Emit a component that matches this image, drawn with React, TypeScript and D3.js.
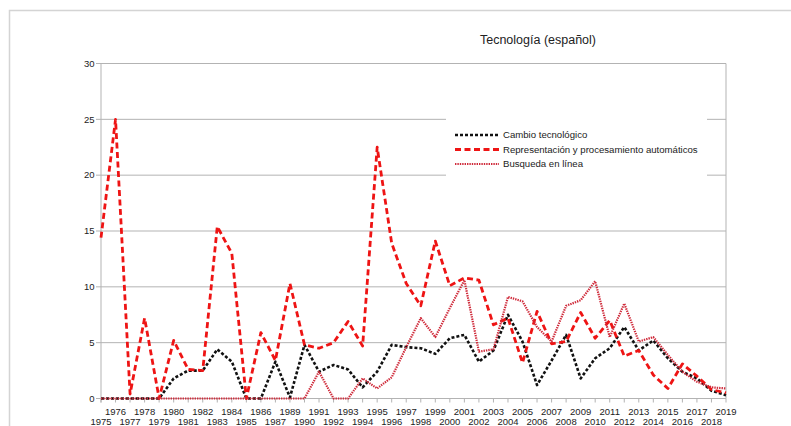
import React from "react";
import * as d3 from "d3";

const years: string[] = [
  "1975","1976","1977","1978","1979","1980","1981","1982","1983","1984","1985","1986","1987",
  "1989","1990","1991","1992","1993","1994","1995","1996","1997","1998","1999","2000","2001",
  "2002","2003","2004","2005","2006","2007","2008","2009","2010","2011","2012","2013","2014",
  "2015","2016","2017","2018","2019",
];

const cambio: number[] = [
  0, 0, 0, 0, 0, 1.8, 2.5, 2.5, 4.4, 3.3, 0, 0, 3.3,
  0.1, 4.8, 2.4, 3.0, 2.6, 1.0, 2.4, 4.8, 4.6, 4.5, 4.0, 5.4, 5.7,
  3.3, 4.3, 7.5, 5.1, 1.2, 3.4, 5.7, 1.8, 3.6, 4.5, 6.4, 4.3, 5.2,
  3.6, 2.4, 1.8, 0.7, 0.3,
];

const representacion: number[] = [
  14.4, 25.0, 0.4, 7.2, 0, 5.2, 2.6, 2.5, 15.4, 13.0, 0, 5.9, 3.4,
  10.3, 4.8, 4.5, 5.0, 6.9, 4.7, 22.5, 13.9, 10.3, 8.3, 14.1, 10.1, 10.8,
  10.6, 6.6, 7.2, 3.2, 7.8, 4.9, 5.1, 7.7, 5.4, 7.0, 3.8, 4.3, 2.1,
  0.9, 3.1, 2.0, 0.8, 0.5,
];

const busqueda: number[] = [
  0, 0, 0, 0, 0, 0, 0, 0, 0, 0, 0, 0, 0,
  0, 0, 2.4, 0, 0, 1.8, 0.9, 1.9, 4.6, 7.2, 5.5, 8.1, 10.6,
  4.2, 4.4, 9.1, 8.7, 6.4, 5.1, 8.3, 8.8, 10.5, 5.5, 8.5, 5.1, 5.5,
  3.9, 2.4, 1.5, 1.0, 0.9,
];

const yTicks: number[] = [0, 5, 10, 15, 20, 25, 30];

const seriesNames: string[] = [
  "Cambio tecnológico",
  "Representación y procesamiento automáticos",
  "Busqueda en línea",
];

const title = "Tecnología (español)";

const FONT = "'Liberation Sans', Arial, sans-serif";

export default function App() {
  const W = 791;
  const H = 426;
  const x = d3.scalePoint<string>().domain(years).range([101, 726]);
  const y = d3.scaleLinear().domain([0, 30]).range([398.5, 63.5]);

  const styles = [
    { color: "#111111", dash: "3,2", width: 2.6 },
    { color: "#ee1414", dash: "6,3.5", width: 2.8 },
    { color: "#cf2a3a", dash: "1.4,1", width: 2.2 },
  ];
  const data = [cambio, representacion, busqueda];

  const line = d3
    .line<number>()
    .x((_, i) => x(years[i]) as number)
    .y((d) => y(d));

  const legendX = 446;
  const legendY = 121;

  return (
    <svg
      width={W}
      height={H}
      style={{ position: "absolute", left: 0, top: 0, background: "#fff" }}
      fontFamily={FONT}
    >
      <rect x={9.5} y={10.5} width={900} height={600} fill="#fff" stroke="#d4d4d4" strokeWidth={1.5} />
      <text x={538} y={44} textAnchor="middle" fontSize={12.5} fill="#222">
        {title}
      </text>

      {yTicks.map((t) => (
        <g key={t}>
          <line x1={101} x2={726} y1={y(t)} y2={y(t)} stroke="#b3b3b3" strokeWidth={1} />
          <line x1={96} x2={101} y1={y(t)} y2={y(t)} stroke="#b3b3b3" strokeWidth={1} />
          <text x={94.5} y={y(t) + 3.3} textAnchor="end" fontSize={9.5} fill="#222">
            {t}
          </text>
        </g>
      ))}
      <line x1={101} x2={101} y1={y(30)} y2={y(0) + 4} stroke="#b3b3b3" strokeWidth={1} />
      <line x1={726} x2={726} y1={y(30)} y2={y(0)} stroke="#b3b3b3" strokeWidth={1} />

      {years.map((yr, i) => (
        <g key={yr}>
          <line
            x1={x(yr) as number}
            x2={x(yr) as number}
            y1={y(0)}
            y2={y(0) + 4}
            stroke="#b3b3b3"
            strokeWidth={1}
          />
          <text
            x={x(yr) as number}
            y={i % 2 === 0 ? 425 : 415}
            textAnchor="middle"
            fontSize={9.5}
            fill="#222"
          >
            {yr}
          </text>
        </g>
      ))}

      {data.map((d, k) => (
        <path
          key={k}
          d={line(d) || ""}
          fill="none"
          stroke={styles[k].color}
          strokeWidth={styles[k].width}
          strokeDasharray={styles[k].dash}
          strokeLinejoin="round"
        />
      ))}

      <rect x={legendX} y={legendY - 4} width={261} height={61} fill="#fff" />
      {seriesNames.map((n, k) => (
        <g key={n}>
          <line
            x1={legendX + 9}
            x2={legendX + 53}
            y1={legendY + 14 + k * 14.5}
            y2={legendY + 14 + k * 14.5}
            stroke={styles[k].color}
            strokeWidth={styles[k].width}
            strokeDasharray={styles[k].dash}
          />
          <text x={legendX + 57} y={legendY + 17.3 + k * 14.5} fontSize={9.6} fill="#222">
            {n}
          </text>
        </g>
      ))}
    </svg>
  );
}
